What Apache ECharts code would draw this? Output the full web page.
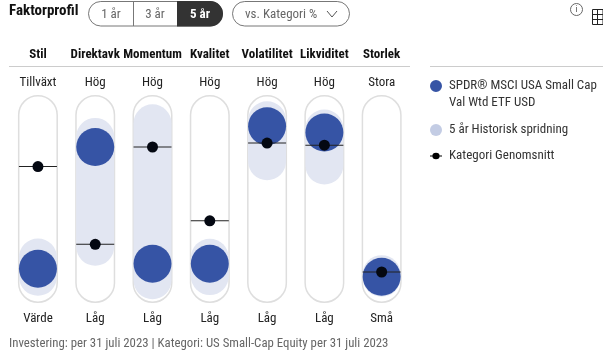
<!DOCTYPE html>
<html><head><meta charset="utf-8">
<style>html,body{margin:0;padding:0;background:#fff}#c{width:603px;height:359px}</style>
<script src="https://cdn.jsdelivr.net/npm/echarts@6/dist/echarts.min.js"></script>
</head><body><div id="c"></div>
<script>
const factors = ['Stil','Direktavk','Momentum','Kvalitet','Volatilitet','Likviditet','Storlek'];
const highLabels = ['Tillväxt','Hög','Hög','Hög','Hög','Hög','Stora'];
const lowLabels = ['Värde','Låg','Låg','Låg','Låg','Låg','Små'];
const fundValues = [16.5,75,18.9,18.9,85,82,12.6];
const categoryAverages = [65.6,28.2,75,39.5,76.9,75.9,14.9];
const rangeLow = [3.5,17.9,1.8,3.8,59,57,3];
const rangeHigh = [31,89,95.5,30.9,97,93,23];
const fundName = 'SPDR® MSCI USA Small Cap\nVal Wtd ETF USD';
const rangeName = '5 år Historisk spridning';
const avgName = 'Kategori Genomsnitt';
const FONT = '"Roboto Condensed","Roboto",sans-serif';
const chart = echarts.init(document.getElementById('c'), null, {renderer:'canvas'});
const hiddenAxis = {type:'category', axisLine:{show:false}, axisTick:{show:false}, splitLine:{show:false}};
function txt(x,y,t,o){return {type:'text',silent:true,x:x,y:y,style:Object.assign({text:t,font:'13px '+FONT,fill:'#555',textAlign:'center',textVerticalAlign:'middle'},o||{})};}
function ln(x1,y1,x2,y2,c){return {type:'line',silent:true,shape:{x1:x1,y1:y1,x2:x2,y2:y2},style:{stroke:c,lineWidth:1}};}
const legendText = {color:'#333',fontFamily:FONT,fontSize:13,lineHeight:17,padding:[0,0,0,2]};
chart.setOption({
  animation:false,
  grid:{left:9.3,width:401,top:95,height:208,containLabel:false},
  xAxis:[
    Object.assign({},hiddenAxis,{data:factors,position:'top',offset:34,axisLabel:{interval:0,margin:0,color:'#111',fontFamily:FONT,fontWeight:'bold',fontSize:13,verticalAlign:'bottom'}}),
    Object.assign({},hiddenAxis,{data:highLabels,position:'top',offset:6,axisLabel:{interval:0,margin:0,color:'#222',fontFamily:FONT,fontSize:13,verticalAlign:'bottom'}}),
    Object.assign({},hiddenAxis,{data:lowLabels,position:'bottom',offset:9,axisLabel:{interval:0,margin:0,color:'#222',fontFamily:FONT,fontSize:13,verticalAlign:'top'}})
  ],
  yAxis:{type:'value',min:0,max:100,show:false},
  legend:[
    {orient:'vertical',left:430,top:77.5,padding:0,itemWidth:12,itemHeight:34,textStyle:legendText,
     data:[{name:fundName,icon:'path://M0 0L12 0M0 34L12 34M12 8.5A6 6 0 1 1 0 8.5A6 6 0 1 1 12 8.5Z',itemStyle:{color:'#3654a5'}}]},
    {orient:'vertical',left:430,top:121.5,padding:0,itemGap:9,itemWidth:12,itemHeight:12,textStyle:legendText,
     data:[
      {name:rangeName,icon:'circle',itemStyle:{color:'#c3cce4'}},
      {name:avgName,icon:'path://M0 0L12 0M0 12L12 12M0 5.4H12V6.6H0ZM9.6 6A3.6 3.2 0 1 1 2.4 6A3.6 3.2 0 1 1 9.6 6Z',itemStyle:{color:'#000'}}
     ]}
  ],
  series:[
    {type:'bar',name:'track',barWidth:40,data:factors.map(()=>100),silent:true,xAxisIndex:0,
      itemStyle:{color:'#fff',borderColor:'#dedede',borderWidth:1.5,borderRadius:20},z:1},
    {type:'custom',name:rangeName,xAxisIndex:0,z:2,silent:true,
      data:rangeLow.map((v,i)=>[i,v,rangeHigh[i]]),
      itemStyle:{color:'#e2e6f2'},
      renderItem:function(p,api){
        const a=api.coord([api.value(0),api.value(2)]),b=api.coord([api.value(0),api.value(1)]);
        return {type:'rect',shape:{x:a[0]-19,y:a[1],width:38,height:b[1]-a[1],r:19},style:{fill:'#e2e6f2'}};
      }},
    {type:'scatter',name:fundName,xAxisIndex:0,z:3,silent:true,symbol:'circle',symbolSize:38,data:fundValues,
      itemStyle:{color:'#3654a5',opacity:1}},
    {type:'custom',name:avgName,xAxisIndex:0,z:4,silent:true,
      data:categoryAverages.map((v,i)=>[i,v]),
      itemStyle:{color:'#000'},
      renderItem:function(p,api){
        const c=api.coord([api.value(0),api.value(1)]);
        return {type:'group',children:[
          {type:'rect',shape:{x:c[0]-19,y:c[1]-0.5,width:38,height:1},style:{fill:'#222'}},
          {type:'circle',shape:{cx:c[0],cy:c[1],r:5.5},style:{fill:'#040812'}}
        ]};
      }}
  ],
  graphic:[
    txt(9,11,'Faktorprofil',{font:'bold 15px '+FONT,fill:'#111',textAlign:'left'}),
    {type:'rect',silent:true,shape:{x:88.5,y:1.5,width:134,height:24.5,r:12.25},style:{fill:'#fff',stroke:'#777',lineWidth:1}},
    {type:'rect',silent:true,shape:{x:177,y:1,width:46,height:25.5,r:[0,13,13,0]},style:{fill:'#333'}},
    ln(133.5,2,133.5,26,'#777'),
    txt(111,14.5,'1 år',{font:'13px '+FONT,fill:'#666'}),
    txt(155,14.5,'3 år',{font:'13px '+FONT,fill:'#666'}),
    txt(200,14.5,'5 år',{font:'bold 13px '+FONT,fill:'#fff'}),
    {type:'rect',silent:true,shape:{x:232.5,y:1.5,width:117,height:24.5,r:12.25},style:{fill:'#fff',stroke:'#777',lineWidth:1}},
    txt(245,14.5,'vs. Kategori %',{font:'13px '+FONT,fill:'#666',textAlign:'left'}),
    {type:'polyline',silent:true,shape:{points:[[327,11],[332,17],[337,11]]},style:{stroke:'#555',fill:'none',lineWidth:1}},
    ln(9,66.5,410,66.5,'#ccc'),
    ln(430,66.5,603,66.5,'#ccc'),
    {type:'circle',silent:true,shape:{cx:576.5,cy:9.5,r:6},style:{fill:'#fff',stroke:'#666',lineWidth:1}},
    txt(576.5,10,'i',{font:'9px '+FONT,fill:'#555'}),
    {type:'rect',silent:true,shape:{x:592.5,y:9.5,width:10.5,height:15},style:{fill:'none',stroke:'#222',lineWidth:1}},
    ln(592.5,14.5,603,14.5,'#222'),ln(592.5,19.5,603,19.5,'#222'),ln(597.5,9.5,597.5,24.5,'#222'),
    txt(9,344,'Investering: per 31 juli 2023 | Kategori: US Small-Cap Equity per 31 juli 2023',{font:'12.8px '+FONT,fill:'#666',textAlign:'left'})
  ]
});
</script></body></html>
